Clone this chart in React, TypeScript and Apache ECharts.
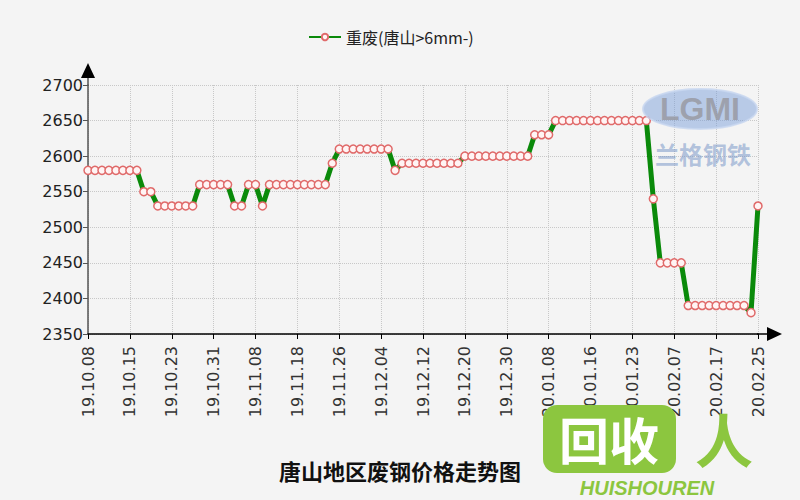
import React, { useEffect, useRef } from "react";
import * as echarts from "echarts";

const categories: string[] = [
  "19.10.08", "19.10.09", "19.10.10", "19.10.11", "19.10.12", "19.10.14",
  "19.10.15", "19.10.16", "19.10.17", "19.10.18", "19.10.21", "19.10.22",
  "19.10.23", "19.10.24", "19.10.25", "19.10.28", "19.10.29", "19.10.30",
  "19.10.31", "19.11.01", "19.11.04", "19.11.05", "19.11.06", "19.11.07",
  "19.11.08", "19.11.11", "19.11.12", "19.11.13", "19.11.14", "19.11.15",
  "19.11.18", "19.11.19", "19.11.20", "19.11.21", "19.11.22", "19.11.25",
  "19.11.26", "19.11.27", "19.11.28", "19.11.29", "19.12.02", "19.12.03",
  "19.12.04", "19.12.05", "19.12.06", "19.12.09", "19.12.10", "19.12.11",
  "19.12.12", "19.12.13", "19.12.16", "19.12.17", "19.12.18", "19.12.19",
  "19.12.20", "19.12.23", "19.12.24", "19.12.25", "19.12.26", "19.12.27",
  "19.12.30", "19.12.31", "20.01.02", "20.01.03", "20.01.06", "20.01.07",
  "20.01.08", "20.01.09", "20.01.10", "20.01.13", "20.01.14", "20.01.15",
  "20.01.16", "20.01.17", "20.01.19", "20.01.20", "20.01.21", "20.01.22",
  "20.01.23", "20.01.24", "20.02.03", "20.02.04", "20.02.05", "20.02.06",
  "20.02.07", "20.02.10", "20.02.11", "20.02.12", "20.02.13", "20.02.14",
  "20.02.17", "20.02.18", "20.02.19", "20.02.20", "20.02.21", "20.02.24",
  "20.02.25",
];

const prices: number[] = [
  2580, 2580, 2580, 2580, 2580, 2580,
  2580, 2580, 2550, 2550, 2530, 2530,
  2530, 2530, 2530, 2530, 2560, 2560,
  2560, 2560, 2560, 2530, 2530, 2560,
  2560, 2530, 2560, 2560, 2560, 2560,
  2560, 2560, 2560, 2560, 2560, 2590,
  2610, 2610, 2610, 2610, 2610, 2610,
  2610, 2610, 2580, 2590, 2590, 2590,
  2590, 2590, 2590, 2590, 2590, 2590,
  2600, 2600, 2600, 2600, 2600, 2600,
  2600, 2600, 2600, 2600, 2630, 2630,
  2630, 2650, 2650, 2650, 2650, 2650,
  2650, 2650, 2650, 2650, 2650, 2650,
  2650, 2650, 2650, 2540, 2450, 2450,
  2450, 2450, 2390, 2390, 2390, 2390,
  2390, 2390, 2390, 2390, 2390, 2380,
  2530,
];

const seriesName = "重废(唐山>6mm-)";
const chartTitle = "唐山地区废钢价格走势图";
const yMin = 2350;
const yMax = 2700;
const yInterval = 50;
const labelEvery = 6;

export default function App() {
  const ref = useRef<HTMLDivElement>(null);

  useEffect(() => {
    if (!ref.current) return;
    const chart = echarts.init(ref.current, undefined, { renderer: "svg" });
    const font = "'DejaVu Sans', sans-serif";
    const cjk = "'Noto Sans CJK SC', sans-serif";
    chart.setOption({
      animation: false,
      backgroundColor: "#f4f4f4",
      title: {
        text: chartTitle,
        left: "center",
        top: 454,
        textStyle: {
          fontSize: 22,
          fontWeight: "bold",
          color: "#111",
          fontFamily: cjk,
        },
      },
      legend: {
        top: 24,
        left: 303,
        itemWidth: 32,
        itemHeight: 8,
        itemGap: 8,
        textStyle: {
          fontSize: 16,
          color: "#222",
          fontFamily: cjk,
        },
      },
      grid: { left: 88, right: 42, top: 85, bottom: 166 },
      xAxis: {
        type: "category",
        data: categories,
        boundaryGap: false,
        axisLine: { lineStyle: { color: "#000", width: 1.5 } },
        axisTick: {
          interval: labelEvery - 1,
          length: 5,
          lineStyle: { color: "#000" },
        },
        axisLabel: {
          interval: labelEvery - 1,
          rotate: 90,
          fontSize: 16,
          color: "#333",
          fontFamily: font,
          margin: 12,
        },
        splitLine: {
          show: true,
          interval: labelEvery - 1,
          lineStyle: { color: "#c8c8c8", type: "dotted", width: 1 },
        },
      },
      yAxis: {
        type: "value",
        min: yMin,
        max: yMax,
        interval: yInterval,
        axisLine: { show: true, lineStyle: { color: "#555", width: 1.5 } },
        axisTick: { show: true, length: 5, lineStyle: { color: "#555" } },
        axisLabel: {
          fontSize: 16,
          color: "#222",
          fontFamily: font,
          margin: 5,
          formatter: (v: number) => String(v),
        },
        splitLine: {
          show: true,
          lineStyle: { color: "#c8c8c8", type: "dotted", width: 1 },
        },
      },
      series: [
        {
          name: seriesName,
          type: "line",
          data: prices,
          symbol: "circle",
          symbolSize: 8,
          showAllSymbol: true,
          lineStyle: { color: "#0a8a0a", width: 5 },
          itemStyle: { color: "#fff4f4", borderColor: "#e06a6a", borderWidth: 1.5 },
          z: 3,
        },
      ],
      graphic: [
        { type: "line", shape: { x1: 88, y1: 86, x2: 88, y2: 76 }, style: { stroke: "#555", lineWidth: 1.5 }, z: 10 },
        { type: "polygon", shape: { points: [[81, 78], [95, 78], [88, 63]] }, style: { fill: "#000" }, z: 10 },
        { type: "line", shape: { x1: 757, y1: 334, x2: 769, y2: 334 }, style: { stroke: "#000", lineWidth: 1.5 }, z: 10 },
        { type: "polygon", shape: { points: [[767, 327], [767, 341], [782, 334]] }, style: { fill: "#000" }, z: 10 },
        {
          type: "ellipse",
          shape: { cx: 700, cy: 109, rx: 57, ry: 20 },
          style: { fill: "rgba(110,150,215,0.45)", stroke: "rgba(200,215,240,0.8)", lineWidth: 2 },
          z: 20,
        },
        {
          type: "text",
          x: 700,
          y: 109,
          style: {
            text: "LGMI",
            fill: "rgba(150,150,158,0.8)",
            font: "bold 32px 'Liberation Sans', Arial, sans-serif",
            align: "center",
            verticalAlign: "middle",
          },
          z: 21,
        },
        {
          type: "text",
          x: 703,
          y: 153,
          style: {
            text: "兰格钢铁",
            fill: "rgba(120,150,200,0.55)",
            font: "bold 24px 'Noto Sans CJK SC', sans-serif",
            align: "center",
            verticalAlign: "middle",
          },
          z: 21,
        },
        {
          type: "rect",
          shape: { x: 543, y: 405, width: 133, height: 68, r: 14 },
          style: { fill: "#8cc63f" },
          z: 20,
        },
        {
          type: "text",
          x: 609,
          y: 438,
          style: {
            text: "回收",
            fill: "#fff",
            font: "bold 50px 'Noto Sans CJK SC', sans-serif",
            align: "center",
            verticalAlign: "middle",
          },
          z: 21,
        },
        {
          type: "text",
          x: 724,
          y: 438,
          style: {
            text: "人",
            fill: "#8cc63f",
            font: "bold 58px 'Noto Sans CJK SC', sans-serif",
            align: "center",
            verticalAlign: "middle",
          },
          z: 21,
        },
        {
          type: "text",
          x: 647,
          y: 488,
          style: {
            text: "HUISHOUREN",
            fill: "#8cc63f",
            font: "italic bold 20px 'Liberation Sans', Arial, sans-serif",
            align: "center",
            verticalAlign: "middle",
          },
          z: 21,
        },
      ],
    });
    return () => chart.dispose();
  }, []);

  return (
    <div
      ref={ref}
      style={{ position: "fixed", left: 0, top: 0, width: 800, height: 500 }}
    />
  );
}
